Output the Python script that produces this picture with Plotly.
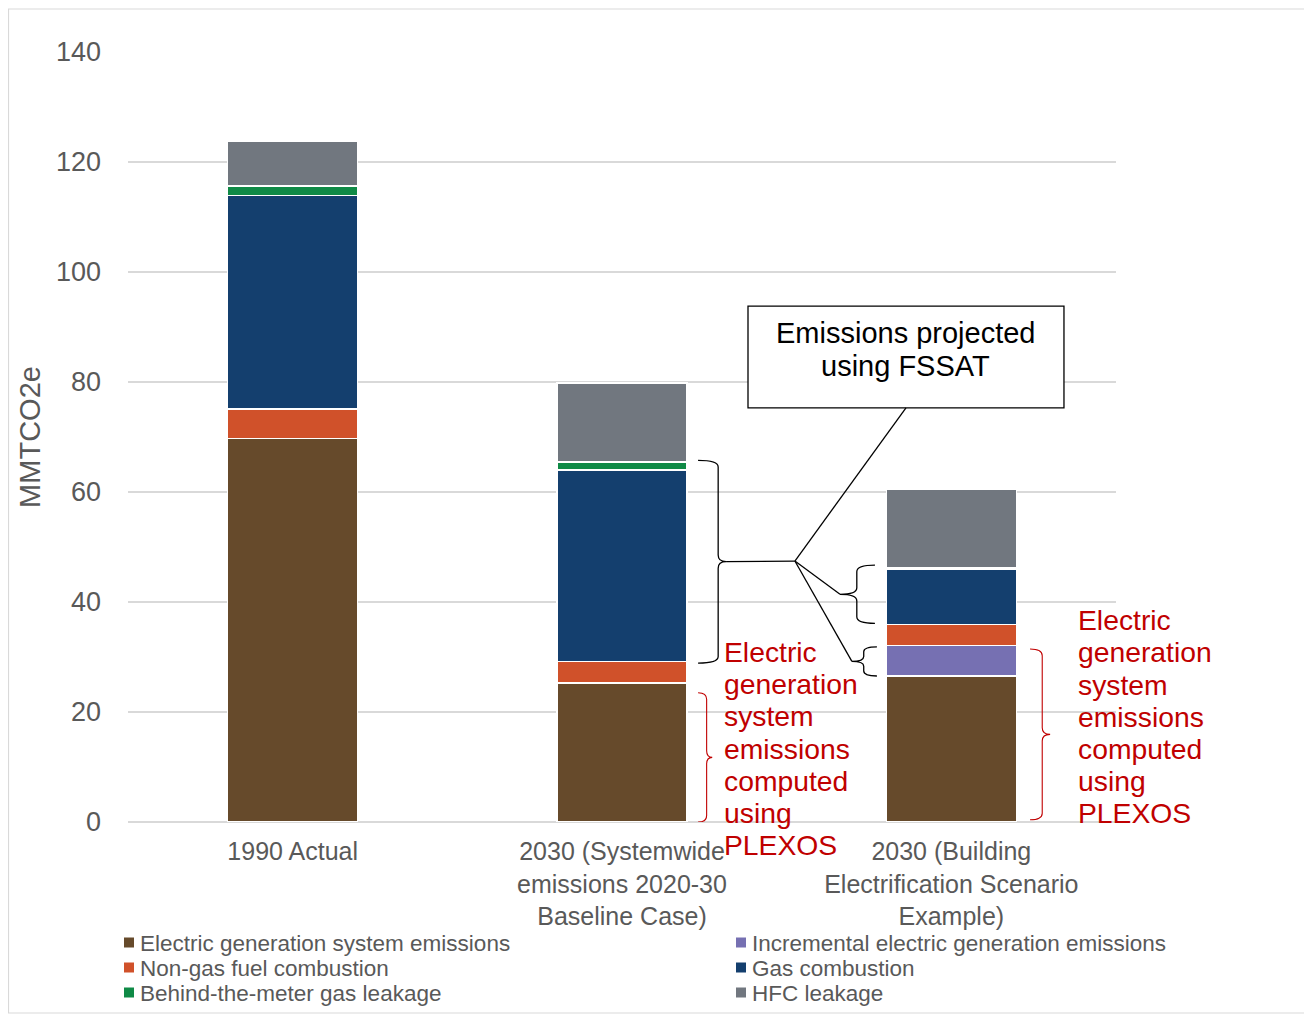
import plotly.graph_objects as go

# data (MMTCO2e)
categories = ["1990 Actual",
              "2030 (Systemwide<br>emissions 2020-30<br>Baseline Case)",
              "2030 (Building<br>Electrification Scenario<br>Example)"]
x_pos = [0, 1, 2]

series_names = ["Electric generation system emissions",
                "Incremental electric generation emissions",
                "Non-gas fuel combustion",
                "Gas combustion",
                "Behind-the-meter gas leakage",
                "HFC leakage"]
elec_gen = [69.7, 25.3, 26.55]
incr_elec = [0, 0, 5.5]
non_gas = [5.4, 3.9, 3.85]
gas_comb = [38.8, 34.8, 10.1]
btm_leak = [1.7, 1.45, 0.2]
hfc_leak = [8.2, 14.4, 14.35]

series_values = [elec_gen, incr_elec, non_gas, gas_comb, btm_leak, hfc_leak]
series_colors = ["#664A2B", "#7670B2", "#D0512A", "#143F6E", "#0F8A46", "#71777F"]

callout_lines = ["Emissions projected", "using FSSAT"]
red_lines = ["Electric", "generation", "system", "emissions", "computed", "using", "PLEXOS"]

FONT = "Arial, Liberation Sans, sans-serif"
GREY = "#595959"
RED = "#C00000"
BAR_W = 0.395
Y_MAX = 140

# page is offset by the 8px body margin; targets below are page pixels
OFF = 8
W, H = 1304, 1007
PL, PR, PT, PB = 128, 1116, 52, 822


def px(xp):
    return (xp - PL) / (PR - PL)


def py(yp):
    return (PB - yp) / (PB - PT)


fig = go.Figure()
for name, vals, col in zip(series_names, series_values, series_colors):
    fig.add_trace(go.Bar(
        x=x_pos, y=vals, name=name, width=BAR_W, showlegend=False,
        marker=dict(color=col, line=dict(color="white", width=1.5)),
    ))


def cum(i, upto):
    # cumulative height of bar i through series index upto (inclusive)
    return sum(series_values[k][i] for k in range(upto + 1))


def brace(x0, ws, wt, yb, yt, ym=None):
    # curly brace: open ends at x0, spine at x0+ws, tip at x0+wt (negative = faces left)
    if ym is None:
        ym = (yb + yt) / 2
    xs = x0 + ws
    r = min(1.2, (yt - yb) / 6)
    return (f"M {x0},{yt} Q {xs},{yt} {xs},{yt - r} L {xs},{ym + r} "
            f"Q {xs},{ym} {x0 + wt},{ym} Q {xs},{ym} {xs},{ym - r} "
            f"L {xs},{yb + r} Q {xs},{yb} {x0},{yb}")


shapes = []
# bar 2 : gas combustion + btm leakage
b2_lo, b2_hi = cum(1, 2), cum(1, 4)
shapes.append(dict(type="path", path=brace(1.231, 0.061, 0.085, b2_lo - 0.3, b2_hi + 0.3),
                   line=dict(color="black", width=1.3)))
# bar 3 : gas combustion + btm leakage (left side)
b3_lo, b3_hi = cum(2, 2), cum(2, 4)
shapes.append(dict(type="path", path=brace(1.768, -0.055, -0.106, b3_lo + 0.2, b3_hi + 0.5),
                   line=dict(color="black", width=1.3)))
# bar 3 : incremental electric gen
i3_lo, i3_hi = cum(2, 0), cum(2, 1)
shapes.append(dict(type="path", path=brace(1.774, -0.04, -0.076, i3_lo, i3_hi - 0.2),
                   line=dict(color="black", width=1.3)))
# red braces for electric generation
shapes.append(dict(type="path", path=brace(1.231, 0.026, 0.043, 0.0, elec_gen[1] - 1.8),
                   line=dict(color=RED, width=1.1)))
shapes.append(dict(type="path", path=brace(2.239, 0.037, 0.061, 0.4, i3_hi - 0.6),
                   line=dict(color=RED, width=1.1)))

# callout box + lines from the box to the braces
hub = (1.525, 47.45)
box = dict(x0=1.3826, x1=2.342, y0=75.3, y1=93.8)
box_cx = (box["x0"] + box["x1"]) / 2
shapes.append(dict(type="rect", **box, line=dict(color="black", width=1.3),
                   fillcolor="white", layer="above"))
targets = [(1.316, (b2_lo + b2_hi) / 2),
           (1.662, (b3_lo + b3_hi) / 2 + 0.35),
           (1.698, (i3_lo + i3_hi) / 2 - 0.1),
           (box_cx, box["y0"])]
for tx, ty in targets:
    shapes.append(dict(type="line", x0=hub[0], y0=hub[1], x1=tx, y1=ty,
                       line=dict(color="black", width=1.3)))

# outer chart border
shapes.append(dict(type="rect", xref="paper", yref="paper",
                   x0=px(8.5), x1=px(1310), y0=py(1013), y1=py(9),
                   line=dict(color="#D9D9D9", width=1.2)))

annotations = []
for k, line in enumerate(callout_lines):
    annotations.append(dict(x=box_cx, y=88.9 - 6.0 * k, text=line, showarrow=False,
                            font=dict(family=FONT, size=29, color="black")))
for k, line in enumerate(red_lines):
    for x0, y0 in [(1.307, 30.9), (2.382, 36.7)]:
        # paper y so that lines below the axis are still drawn
        annotations.append(dict(x=x0, yref="paper", y=(y0 - 5.85 * k) / Y_MAX, text=line,
                                showarrow=False, xanchor="left", yanchor="middle",
                                borderpad=0,
                                font=dict(family=FONT, size=28.3, color=RED)))

# legend drawn in two columns like the original
legend_order = [0, 2, 4, 1, 3, 5]
for n, idx in enumerate(legend_order):
    col, row = divmod(n, 3)
    mx = 129 + col * 612
    my = 943.5 + row * 25
    shapes.append(dict(type="rect", xref="paper", yref="paper",
                       x0=px(mx - 5), x1=px(mx + 5), y0=py(my + 4), y1=py(my - 6),
                       fillcolor=series_colors[idx], line=dict(width=0)))
    annotations.append(dict(xref="paper", yref="paper", x=px(mx + 10), y=py(my),
                            text=series_names[idx], showarrow=False,
                            xanchor="left", yanchor="middle", borderpad=0,
                            font=dict(family=FONT, size=22.5, color=GREY)))

fig.update_layout(
    barmode="stack",
    width=W, height=H,
    margin=dict(l=PL - OFF, r=W - (PR - OFF), t=PT - OFF, b=H - (PB - OFF), autoexpand=False),
    paper_bgcolor="white", plot_bgcolor="white",
    font=dict(family=FONT, color=GREY),
    shapes=shapes,
    annotations=annotations,
    showlegend=False,
)
fig.update_xaxes(range=[-0.5, 2.5], tickmode="array", tickvals=x_pos, ticktext=categories,
                 tickfont=dict(family=FONT, size=25, color=GREY), ticklabelstandoff=12,
                 showgrid=False, zeroline=False, showline=False, ticks="")
fig.update_yaxes(range=[0, Y_MAX], dtick=20, tickfont=dict(family=FONT, size=27, color=GREY),
                 showgrid=True, gridcolor="#D9D9D9", gridwidth=1.5, zeroline=True,
                 zerolinecolor="#D9D9D9", zerolinewidth=1.5, ticks="", ticklabelstandoff=26,
                 title=dict(text="MMTCO2e", font=dict(family=FONT, size=29, color=GREY),
                            standoff=6))

fig.write_html("out.html")
